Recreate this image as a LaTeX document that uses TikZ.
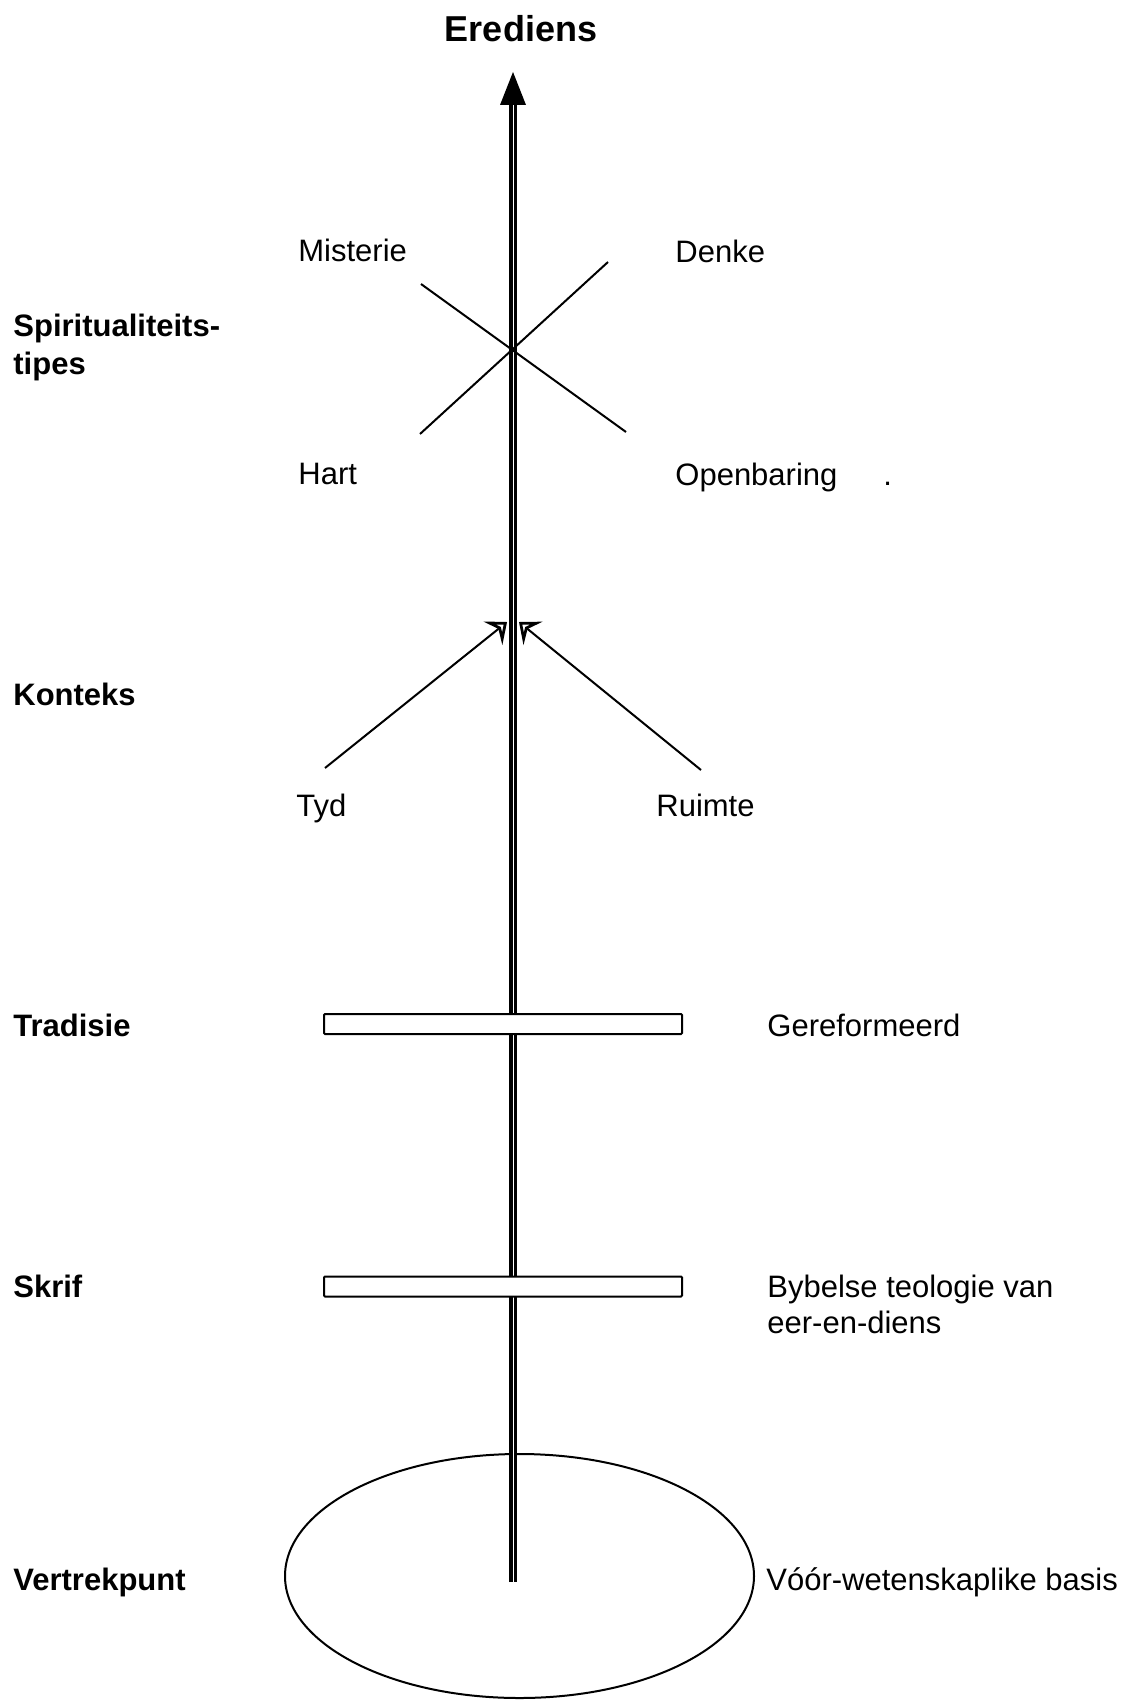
\documentclass[tikz,border=0pt]{standalone}
\usepackage{fontspec}
\setmainfont{Liberation Sans}
\usetikzlibrary{arrows.meta,shapes.geometric}
\begin{document}
\begin{tikzpicture}[x=0.5pt,y=-0.5pt,
  lbl/.style={inner sep=0pt, anchor=base west, font=\fontsize{15.5}{18}\selectfont},
  head/.style={lbl, font=\fontsize{15.5}{18}\selectfont\bfseries},
  thinline/.style={line width=1pt},
  shaft/.style={line width=1.8pt, double=white, double distance=0.5pt},
  bar/.style={draw, fill=white, line width=1pt, minimum width=179pt,
    minimum height=10pt, inner sep=0pt, rounded corners=0.5pt},
  tipin/.style={thinline, -{Stealth[open, length=9pt, width=15pt, inset=3.5pt, line width=1.4pt]}}
]
\useasboundingbox (0,0) rectangle (1125,1701);

% base ellipse
\node[draw, ellipse, line width=1pt, minimum width=234.5pt, minimum height=122pt,
  inner sep=0pt] (grond) at (519.5,1576) {};

% main shaft
\coordinate (base) at (513,1582);
\coordinate (top) at (513,72);
\draw[shaft, shorten >=16pt] (base) -- (top);
\fill (top) -- ++(-13,33) -- ++(26,0) -- cycle;

% cross-bars
\node[bar] (tradbar) at (503,1024) {};
\node[bar] (skrifbar) at (503,1286.5) {};

% context lines
\coordinate (tydend) at (325,768);
\coordinate (ruimend) at (701,770);
\coordinate (tydtip) at (507,622);
\coordinate (ruimtip) at (519,622);
\draw[tipin] (tydend) -- (tydtip);
\draw[tipin] (ruimend) -- (ruimtip);

% spirituality cross
\coordinate (ml) at (421,284);
\coordinate (or) at (626,432);
\coordinate (dk) at (608,262);
\coordinate (ht) at (420,434);
\draw[thinline] (ml) -- (or);
\draw[thinline] (dk) -- (ht);

% title
\node[inner sep=0pt, anchor=base, font=\fontsize{18}{21}\selectfont\bfseries] (title) at (521,42) {Erediens};

% left-hand headings
\node[head] (spir1) at (13,336) {Spiritualiteits-};
\node[head] (spir2) at (13,374) {tipes};
\node[head] (konteks) at (13,705) {Konteks};
\node[head] (tradisie) at (13,1036) {Tradisie};
\node[head] (skrif) at (13,1297) {Skrif};
\node[head] (vertrek) at (13,1590) {Vertrekpunt};

% labels around the shaft
\node[lbl] (misterie) at (298,262) {Misterie};
\node[lbl] (denke) at (675,263) {Denke};
\node[lbl] (hart) at (298,484) {Hart};
\node[lbl] (openbaring) at (675,485) {Openbaring};
\node[lbl] (punt) at (883,485) {.};
\node[lbl] (tyd) at (296,816) {Tyd};
\node[lbl] (ruimte) at (656,816) {Ruimte};

% right-hand descriptions
\node[lbl] (geref) at (767,1036) {Gereformeerd};
\node[lbl] (bybel1) at (767,1297) {Bybelse teologie van};
\node[lbl] (bybel2) at (767,1333) {eer-en-diens};
\node[lbl] (voor) at (766,1590) {Vóór-wetenskaplike basis};
\end{tikzpicture}
\end{document}
